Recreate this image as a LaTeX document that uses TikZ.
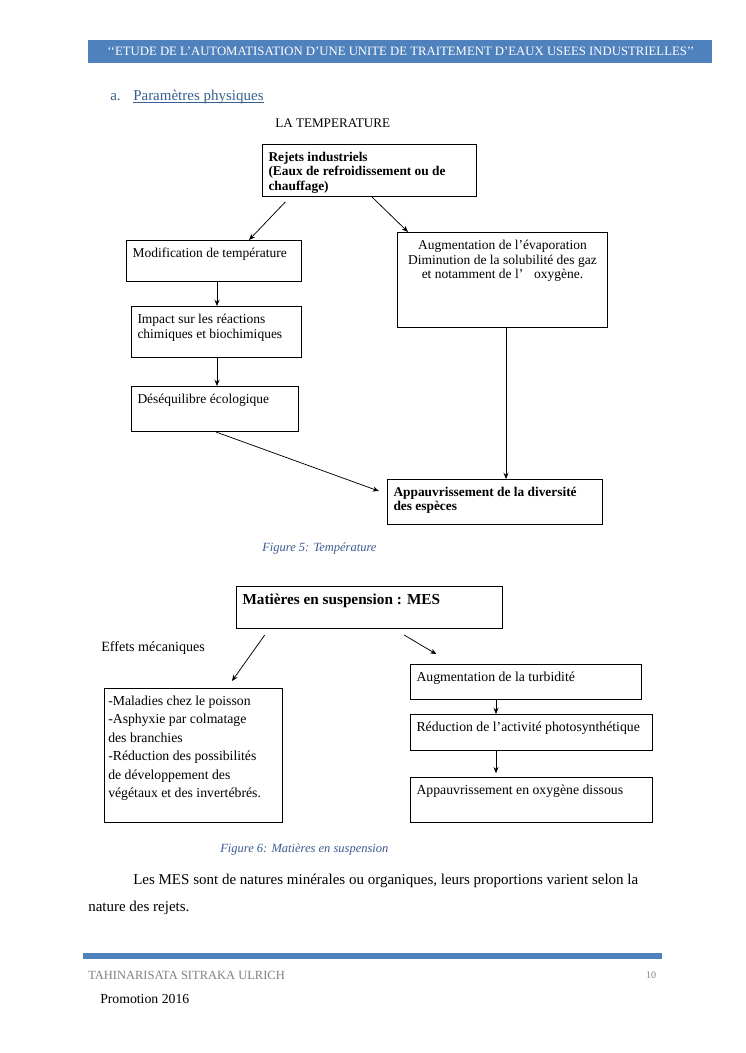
\documentclass[tikz,border=0pt]{standalone}
\usepackage{fontspec}
\setmainfont{Liberation Serif}
\usetikzlibrary{arrows.meta,calc}
\definecolor{bandeau}{HTML}{4F81BD}
\definecolor{titrebleu}{HTML}{365F91}
\definecolor{legende}{HTML}{3B5C8F}
\definecolor{piedgris}{HTML}{808080}
\tikzset{cadre/.style={draw,line width=0.8pt,anchor=north west,inner xsep=4.8pt,inner ysep=6pt,font=\fontsize{10.8}{11.8}\selectfont},fleche/.style={-{Stealth[length=5pt,width=4pt]},line width=0.6pt},texte/.style={anchor=west,inner sep=0pt}}

\begin{document}
\begin{tikzpicture}[x=0.8pt,y=-0.8pt]
\fill[white] (0,0) rectangle (745,1053);
\useasboundingbox (0,0) rectangle (745,1053);
% en-tete et titre
\fill[bandeau] (88,40) rectangle (712,63);
\node[texte,anchor=center,text=white,font=\fontsize{10.2}{12}\selectfont] (entete) at (401,51.5) {‘‘ETUDE DE L’AUTOMATISATION D’UNE UNITE DE TRAITEMENT D’EAUX USEES INDUSTRIELLES’’};
\node[texte,text=titrebleu,font=\fontsize{12}{14}\selectfont] (lettre) at (110,97) {a.};
\node[texte,text=titrebleu,font=\fontsize{12}{14}\selectfont] (para) at (133,97) {Paramètres physiques};
\draw[titrebleu,line width=0.6pt] ([yshift=-1.5pt]para.base west) -- ([yshift=-1.5pt]para.base east);
\node[texte,font=\fontsize{10.5}{12}\selectfont] (temp) at (275,123) {LA TEMPERATURE};
% figure 5
\node[cadre,font=\fontsize{10.7}{11.6}\selectfont\bfseries] (rejets) at (262,144) {\parbox[t][29.6pt][t]{161.6pt}{Rejets industriels\\(Eaux de refroidissement ou de\\chauffage)}};
\node[cadre] (modif) at (126,240) {\parbox[t][20.8pt][t]{130.4pt}{Modification de température}};
\node[cadre] (augm) at (397,232) {\parbox[t][64pt][t]{158.4pt}{\centering Augmentation de l’évaporation\\Diminution de la solubilité des gaz\\et notamment de l’\hspace{0.8em}oxygène.}};
\node[cadre] (impact) at (131,306) {\parbox[t][28.8pt][t]{126.4pt}{Impact sur les réactions\\chimiques et biochimiques}};
\node[cadre] (deseq) at (131,386) {\parbox[t][24pt][t]{124pt}{Déséquilibre écologique}};
\node[cadre,font=\fontsize{10.7}{11.6}\selectfont\bfseries] (appauv) at (387,479) {\parbox[t][24pt][t]{162.4pt}{Appauvrissement de la diversité\\des espèces}};
\draw[fleche,shorten <=5.4pt] ($(rejets.south west)+(28,0)$) -- ($(modif.north west)+(123,0)$);
\draw[fleche] ($(rejets.south west)+(110,0)$) -- ($(augm.north west)+(11,0)$);
\draw[fleche] ($(modif.south west)+(91,0)$) -- ($(impact.north west)+(86,0)$);
\draw[fleche] ($(impact.south west)+(86,0)$) -- ($(deseq.north west)+(86,0)$);
\draw[fleche,shorten >=6.8pt] ($(deseq.south west)+(85,0)$) -- ($(appauv.north west)+(0,15)$);
\draw[fleche] ($(augm.south west)+(109,0)$) -- ($(appauv.north west)+(119,0)$);
\node[texte,text=legende,font=\fontsize{10}{12}\selectfont\itshape] (leg5) at (262,548) {Figure 5: Température};
% figure 6
\node[cadre,font=\fontsize{12.2}{14}\selectfont\bfseries] (mes) at (236,586) {\parbox[t][21.6pt][t]{203.2pt}{Matières en suspension : MES}};
\node[texte,font=\fontsize{11.3}{13}\selectfont] (effmeca) at (101,648) {Effets mécaniques};
\node[cadre,inner xsep=3pt,font=\fontsize{11}{14.7}\selectfont] (effets) at (104,688) {\parbox[t][95.2pt][t]{136.4pt}{-Maladies chez le poisson\\-Asphyxie par colmatage\\des branchies\\-Réduction des possibilités\\de développement des\\végétaux et des invertébrés.}};
\node[cadre,font=\fontsize{11}{13}\selectfont] (turb) at (410,664) {\parbox[t][16pt][t]{175.2pt}{Augmentation de la turbidité}};
\node[cadre,font=\fontsize{11}{13}\selectfont] (photo) at (410,714) {\parbox[t][16.8pt][t]{184pt}{Réduction de l’activité photosynthétique}};
\node[cadre,font=\fontsize{11}{13}\selectfont] (oxyg) at (410,777) {\parbox[t][24pt][t]{184pt}{Appauvrissement en oxygène dissous}};
\draw[fleche,shorten <=5.9pt,shorten >=6.8pt] ($(mes.south west)+(33,0)$) -- ($(effets.north west)+(123,0)$);
\draw[fleche,shorten <=9.3pt,shorten >=15.4pt] ($(mes.south west)+(158,0)$) -- ($(turb.north west)+(43,0)$);
\draw[fleche] ($(turb.south west)+(86,0)$) -- ($(photo.north west)+(86,0)$);
\draw[fleche,shorten >=3pt] ($(photo.south west)+(86,0)$) -- ($(oxyg.north west)+(86,0)$);
\node[texte,text=legende,font=\fontsize{10}{12}\selectfont\itshape] (leg6) at (220,849) {Figure 6: Matières en suspension};
% texte courant et pied de page
\node[texte,font=\fontsize{12}{14}\selectfont] (corps1) at (133,881) {Les MES sont de natures minérales ou organiques, leurs proportions varient selon la};
\node[texte,font=\fontsize{12}{14}\selectfont] (corps2) at (88,908) {nature des rejets.};
\fill[bandeau] (83,953) rectangle (662,959);
\node[texte,text=piedgris,font=\fontsize{10}{12}\selectfont] (auteur) at (88,975) {TAHINARISATA SITRAKA ULRICH};
\node[texte,anchor=center,text=piedgris,font=\fontsize{8}{10}\selectfont] (numpage) at (651,975) {10};
\node[texte,font=\fontsize{11}{13}\selectfont] (promo) at (100,999) {Promotion 2016};
\end{tikzpicture}
\end{document}
